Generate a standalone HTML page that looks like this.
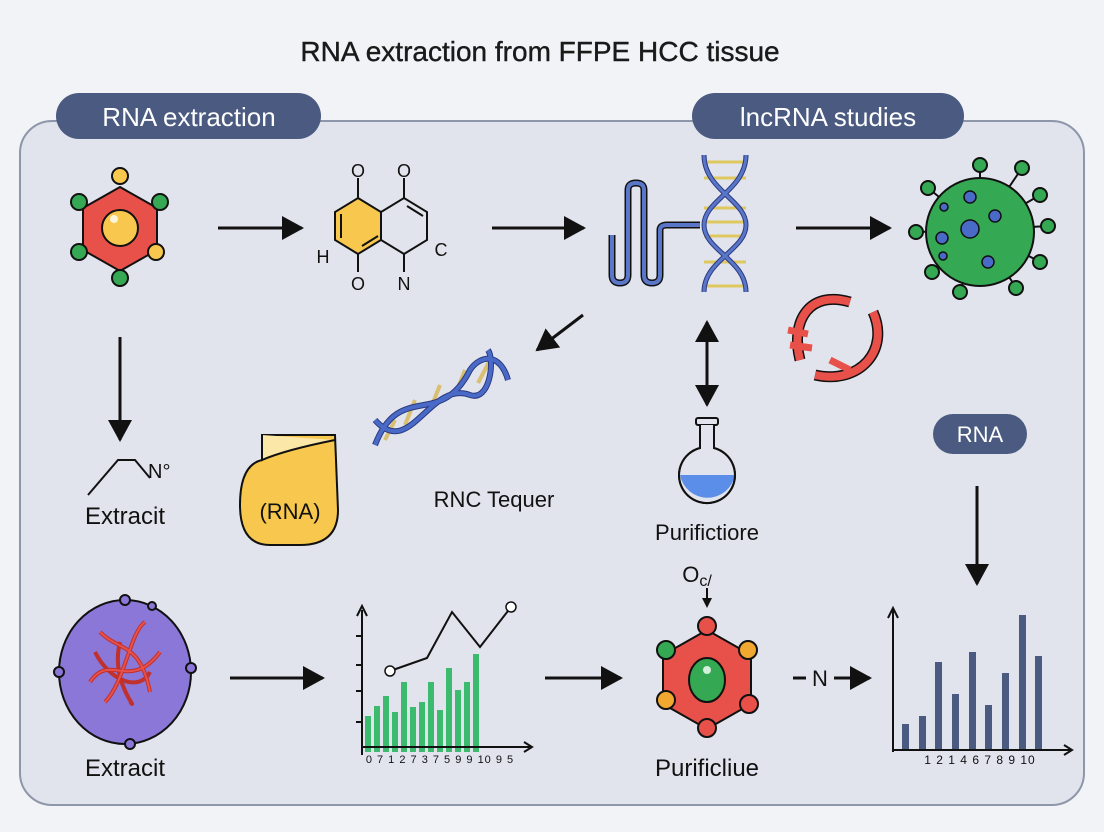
<!DOCTYPE html>
<html><head><meta charset="utf-8"><style>
html,body{margin:0;padding:0;background:#f2f3f6;}
svg{display:block;font-family:"Liberation Sans",sans-serif;}
</style></head><body>
<svg width="1104" height="832" viewBox="0 0 1104 832" xmlns="http://www.w3.org/2000/svg">
<defs>
<marker id="ah" markerWidth="10" markerHeight="10" refX="8" refY="5" orient="auto" markerUnits="userSpaceOnUse"><path d="M0,0 L10,5 L0,10 Z" fill="#111"/></marker>
<marker id="ahb" markerWidth="24" markerHeight="24" refX="20" refY="12" orient="auto-start-reverse" markerUnits="userSpaceOnUse"><path d="M0,0 L22,12 L0,24 Z" fill="#111"/></marker>
</defs>
<rect width="1104" height="832" fill="#f2f3f6"/>
<text x="540" y="61" font-size="28" text-anchor="middle" fill="#1a1a1a" stroke="#1a1a1a" stroke-width="0.4">RNA extraction from FFPE HCC tissue</text>
<rect x="20" y="121" width="1064" height="684" rx="32" fill="#e2e4ed" stroke="#8e96aa" stroke-width="2"/>
<rect x="56" y="93" width="265" height="46" rx="23" fill="#4a5a80"/>
<text x="189" y="126" font-size="26" text-anchor="middle" fill="#fff">RNA extraction</text>
<rect x="692" y="93" width="272" height="46" rx="23" fill="#4a5a80"/>
<text x="828" y="126" font-size="26" text-anchor="middle" fill="#fff">lncRNA studies</text>

<g stroke="#111" stroke-width="3" fill="none">
<line x1="218" y1="228" x2="302" y2="228" marker-end="url(#ahb)"/>
<line x1="492" y1="228" x2="584" y2="228" marker-end="url(#ahb)"/>
<line x1="796" y1="228" x2="890" y2="228" marker-end="url(#ahb)"/>
<line x1="583" y1="315" x2="537" y2="350" marker-end="url(#ahb)"/>
<line x1="707" y1="322" x2="707" y2="405" marker-start="url(#ahb)" marker-end="url(#ahb)"/>
<line x1="120" y1="337" x2="120" y2="440" marker-end="url(#ahb)"/>
<line x1="977" y1="486" x2="977" y2="584" marker-end="url(#ahb)"/>
<line x1="230" y1="678" x2="323" y2="678" marker-end="url(#ahb)"/>
<line x1="545" y1="678" x2="621" y2="678" marker-end="url(#ahb)"/>
<line x1="707" y1="588" x2="707" y2="606" stroke-width="2" marker-end="url(#ah)"/>
<line x1="793" y1="678" x2="806" y2="678"/>
<line x1="834" y1="678" x2="870" y2="678" marker-end="url(#ahb)"/>
</g>
<text x="820" y="686" font-size="22" text-anchor="middle" fill="#111">N</text>

<g stroke="#111" stroke-width="2">
<polygon points="120,187 157,208 157,250 120,271 83,250 83,208" fill="#e8504a"/>
<circle cx="120" cy="228" r="18" fill="#f7c84d"/>
<circle cx="120" cy="176" r="8" fill="#f7c84d"/>
<circle cx="160" cy="202" r="8" fill="#34a853"/>
<circle cx="156" cy="252" r="8" fill="#f7c84d"/>
<circle cx="120" cy="278" r="8" fill="#34a853"/>
<circle cx="79" cy="252" r="8" fill="#34a853"/>
<circle cx="79" cy="202" r="8" fill="#34a853"/>
</g>
<circle cx="114" cy="219" r="4" fill="#fff" opacity=".8"/>

<g stroke="#111" stroke-width="2">
<polygon points="358,198 381,212 381,240 358,254 335,240 335,212" fill="#f7c84d"/>
<polygon points="381,212 404,198 427,212 427,240 404,254 381,240" fill="none"/>
<line x1="358" y1="198" x2="358" y2="178"/><line x1="404" y1="198" x2="404" y2="178"/>
<line x1="358" y1="254" x2="358" y2="272"/><line x1="404" y1="254" x2="404" y2="272"/>
<line x1="407" y1="206" x2="423" y2="216"/><line x1="341" y1="214" x2="341" y2="238"/><line x1="362" y1="246" x2="378" y2="236"/>
</g>
<g font-size="18" fill="#111" text-anchor="middle">
<text x="358" y="177">O</text><text x="404" y="177">O</text>
<text x="358" y="290">O</text><text x="404" y="290">N</text>
<text x="323" y="263">H</text><text x="441" y="256">C</text>
</g>

<path d="M612,235 L612,275 Q612,283 620,283 Q628,283 628,275 L628,190 Q628,183 636,183 Q644,183 644,190 L644,275 Q644,283 652,283 Q660,283 660,275 L660,230 Q660,225 667,225 L700,225" fill="none" stroke="#111" stroke-width="7"/>
<path d="M612,235 L612,275 Q612,283 620,283 Q628,283 628,275 L628,190 Q628,183 636,183 Q644,183 644,190 L644,275 Q644,283 652,283 Q660,283 660,275 L660,230 Q660,225 667,225 L700,225" fill="none" stroke="#5a76c8" stroke-width="4"/>
<g stroke="#e0c860" stroke-width="3">
<line x1="704" y1="162" x2="746" y2="162"/><line x1="704" y1="178" x2="746" y2="178"/><line x1="704" y1="208" x2="746" y2="208"/><line x1="704" y1="222" x2="746" y2="222"/><line x1="704" y1="236" x2="746" y2="236"/><line x1="704" y1="262" x2="746" y2="262"/><line x1="704" y1="286" x2="746" y2="286"/>
</g>
<g fill="none" stroke="#2a3a80" stroke-width="5">
<path d="M704,155 C704,190 746,200 746,225 C746,250 704,260 704,292"/>
<path d="M746,155 C746,190 704,200 704,225 C704,250 746,260 746,292"/>
</g>
<g fill="none" stroke="#5a76c8" stroke-width="3">
<path d="M704,155 C704,190 746,200 746,225 C746,250 704,260 704,292"/>
<path d="M746,155 C746,190 704,200 704,225 C704,250 746,260 746,292"/>
</g>

<g stroke="#111" stroke-width="2" fill="#34a853">
<g>
<line x1="980" y1="230" x2="980" y2="165"/><circle cx="980" cy="165" r="7"/>
<line x1="980" y1="230" x2="1022" y2="168"/><circle cx="1022" cy="168" r="7"/>
<line x1="980" y1="230" x2="1040" y2="195"/><circle cx="1040" cy="195" r="7"/>
<line x1="980" y1="230" x2="1048" y2="226"/><circle cx="1048" cy="226" r="7"/>
<line x1="980" y1="230" x2="1040" y2="262"/><circle cx="1040" cy="262" r="7"/>
<line x1="980" y1="230" x2="1016" y2="288"/><circle cx="1016" cy="288" r="7"/>
<line x1="980" y1="230" x2="960" y2="292"/><circle cx="960" cy="292" r="7"/>
<line x1="980" y1="230" x2="932" y2="272"/><circle cx="932" cy="272" r="7"/>
<line x1="980" y1="230" x2="916" y2="232"/><circle cx="916" cy="232" r="7"/>
<line x1="980" y1="230" x2="928" y2="188"/><circle cx="928" cy="188" r="7"/>
</g>
<circle cx="980" cy="232" r="54"/>
</g>
<g fill="#4a6ac8" stroke="#111" stroke-width="1.5">
<circle cx="970" cy="229" r="9"/><circle cx="970" cy="197" r="6"/><circle cx="995" cy="216" r="6"/><circle cx="942" cy="238" r="6"/><circle cx="988" cy="262" r="6"/><circle cx="944" cy="207" r="4"/><circle cx="943" cy="256" r="4"/>
</g>

<g fill="none" stroke="#111" stroke-width="11">
<path d="M850,302 C810,290 790,320 800,360"/><path d="M873,312 C890,350 860,385 815,375"/>
</g>
<g fill="none" stroke="#e8504a" stroke-width="8">
<path d="M850,302 C810,290 790,320 800,360"/><path d="M873,312 C890,350 860,385 815,375"/>
</g>
<g stroke="#e8504a" stroke-width="7"><line x1="788" y1="330" x2="808" y2="334"/><line x1="790" y1="345" x2="812" y2="348"/><line x1="830" y1="360" x2="850" y2="370"/></g>

<g stroke="#d8c070" stroke-width="4">
<line x1="385" y1="440" x2="395" y2="420"/><line x1="405" y1="425" x2="415" y2="400"/><line x1="430" y1="410" x2="440" y2="385"/><line x1="455" y1="395" x2="465" y2="370"/><line x1="478" y1="383" x2="490" y2="360"/>
</g>
<g fill="none" stroke="#2a3a80" stroke-width="6">
<path d="M375,445 C400,380 440,430 470,370 C480,355 500,352 508,380"/>
<path d="M375,420 C410,460 430,380 470,395 C490,402 495,360 488,350"/>
</g>
<g fill="none" stroke="#4a6ac8" stroke-width="4">
<path d="M375,445 C400,380 440,430 470,370 C480,355 500,352 508,380"/>
<path d="M375,420 C410,460 430,380 470,395 C490,402 495,360 488,350"/>
</g>
<text x="494" y="507" font-size="22" text-anchor="middle" fill="#111">RNC Tequer</text>

<g stroke="#111" stroke-width="2">
<rect x="696" y="418" width="22" height="7" rx="2" fill="#e2e4ed"/>
<path d="M700,425 L700,448 A28,28 0 1 0 714,448 L714,425" fill="#e2e4ed"/>
<path d="M680,475 A28,28 0 0 0 735,475 Z" fill="#5b8ee8" stroke="none"/>
<path d="M700,425 L700,448 A28,28 0 1 0 714,448 L714,425" fill="none"/>
</g>
<text x="707" y="540" font-size="22" text-anchor="middle" fill="#111">Purifictiore</text>
<text x="697" y="582" font-size="22" text-anchor="middle" fill="#111">O<tspan font-size="16" dy="4">c/</tspan></text>

<rect x="933" y="414" width="94" height="40" rx="20" fill="#4a5a80"/>
<text x="980" y="442" font-size="22" text-anchor="middle" fill="#fff">RNA</text>

<polyline points="88,495 118,460 135,460 150,478" fill="none" stroke="#111" stroke-width="2"/>
<text x="148" y="478" font-size="20" fill="#111">N°</text>
<text x="125" y="524" font-size="24" text-anchor="middle" fill="#111">Extracit</text>

<path d="M262,435 L335,435 L338,510 Q338,545 300,545 L270,545 Q240,545 240,505 Q240,465 262,460 Z" fill="#f7c84d" stroke="#111" stroke-width="2"/>
<path d="M262,435 L262,460 Q285,450 335,440" fill="#fbe7a8" stroke="#111" stroke-width="2"/>
<text x="290" y="519" font-size="22" text-anchor="middle" fill="#111">(RNA)</text>

<ellipse cx="125" cy="672" rx="66" ry="72" fill="#8b77d8" stroke="#111" stroke-width="2"/>
<g fill="#8b77d8" stroke="#111" stroke-width="2"><circle cx="125" cy="600" r="5"/><circle cx="59" cy="672" r="5"/><circle cx="191" cy="668" r="5"/><circle cx="130" cy="744" r="5"/><circle cx="152" cy="606" r="4"/></g>
<g fill="none" stroke="#c0302c" stroke-width="4">
<path d="M100,632 C120,652 140,642 150,692 M90,682 C110,652 130,692 160,652 M105,702 C125,682 130,632 145,622 M95,652 C110,682 140,692 150,672 M120,642 C110,682 140,712 130,702"/>
</g>
<g fill="none" stroke="#e8504a" stroke-width="2">
<path d="M100,632 C120,652 140,642 150,692 M90,682 C110,652 130,692 160,652 M105,702 C125,682 130,632 145,622"/>
</g>
<text x="125" y="776" font-size="24" text-anchor="middle" fill="#111">Extracit</text>

<g fill="#3cba6e">
<rect x="365" y="716" width="6" height="36"/><rect x="374" y="706" width="6" height="46"/><rect x="383" y="696" width="6" height="56"/><rect x="392" y="712" width="6" height="40"/><rect x="401" y="682" width="6" height="70"/><rect x="410" y="707" width="6" height="45"/><rect x="419" y="702" width="6" height="50"/><rect x="428" y="682" width="6" height="70"/><rect x="437" y="710" width="6" height="42"/><rect x="446" y="668" width="6" height="84"/><rect x="455" y="690" width="6" height="62"/><rect x="464" y="682" width="6" height="70"/><rect x="473" y="654" width="6" height="98"/>
</g>
<g stroke="#111" stroke-width="2" fill="none">
<line x1="362" y1="755" x2="362" y2="610"/><line x1="362" y1="747" x2="530" y2="747"/>
<path d="M357,616 L362,606 L367,616"/><path d="M524,742 L532,747 L524,752"/>
<line x1="356" y1="636" x2="362" y2="636"/><line x1="356" y1="665" x2="362" y2="665"/><line x1="356" y1="691" x2="362" y2="691"/><line x1="356" y1="722" x2="362" y2="722"/>
<polyline points="390,671 427,658 452,612 480,647 511,607"/>
</g>
<circle cx="390" cy="671" r="5" fill="#fff" stroke="#111" stroke-width="1.5"/><circle cx="511" cy="607" r="5" fill="#fff" stroke="#111" stroke-width="1.5"/>
<text x="440" y="763" font-size="11" text-anchor="middle" fill="#111" letter-spacing="1">0 7 1 2 7 3 7 5 9 9 10 9 5</text>

<g stroke="#111" stroke-width="2">
<polygon points="707,630 751,655 751,704 707,729 663,704 663,655" fill="#e8504a"/>
<ellipse cx="707" cy="680" rx="18" ry="22" fill="#34a853"/>
<circle cx="707" cy="626" r="9" fill="#e8504a"/><circle cx="748" cy="650" r="9" fill="#f0a830"/><circle cx="749" cy="704" r="9" fill="#e8504a"/><circle cx="707" cy="728" r="9" fill="#e8504a"/><circle cx="666" cy="700" r="9" fill="#f0a830"/><circle cx="666" cy="650" r="9" fill="#34a853"/>
</g>
<circle cx="707" cy="670" r="4" fill="#fff" opacity=".8"/>
<text x="707" y="776" font-size="24" text-anchor="middle" fill="#111">Purificliue</text>

<g fill="#4a5a80">
<rect x="902" y="724" width="7" height="26"/><rect x="919" y="716" width="7" height="34"/><rect x="935" y="662" width="7" height="88"/><rect x="952" y="694" width="7" height="56"/><rect x="969" y="652" width="7" height="98"/><rect x="985" y="705" width="7" height="45"/><rect x="1002" y="673" width="7" height="77"/><rect x="1019" y="615" width="7" height="135"/><rect x="1035" y="656" width="7" height="94"/>
</g>
<g stroke="#111" stroke-width="2" fill="none">
<line x1="893" y1="752" x2="893" y2="610"/><line x1="893" y1="750" x2="1070" y2="750"/>
<path d="M888,618 L893,608 L898,618"/><path d="M1064,745 L1072,750 L1064,755"/>
</g>
<text x="980" y="764" font-size="12" text-anchor="middle" fill="#111" letter-spacing="1">1  2  1  4  6  7  8  9 10</text>
</svg>
</body></html>
